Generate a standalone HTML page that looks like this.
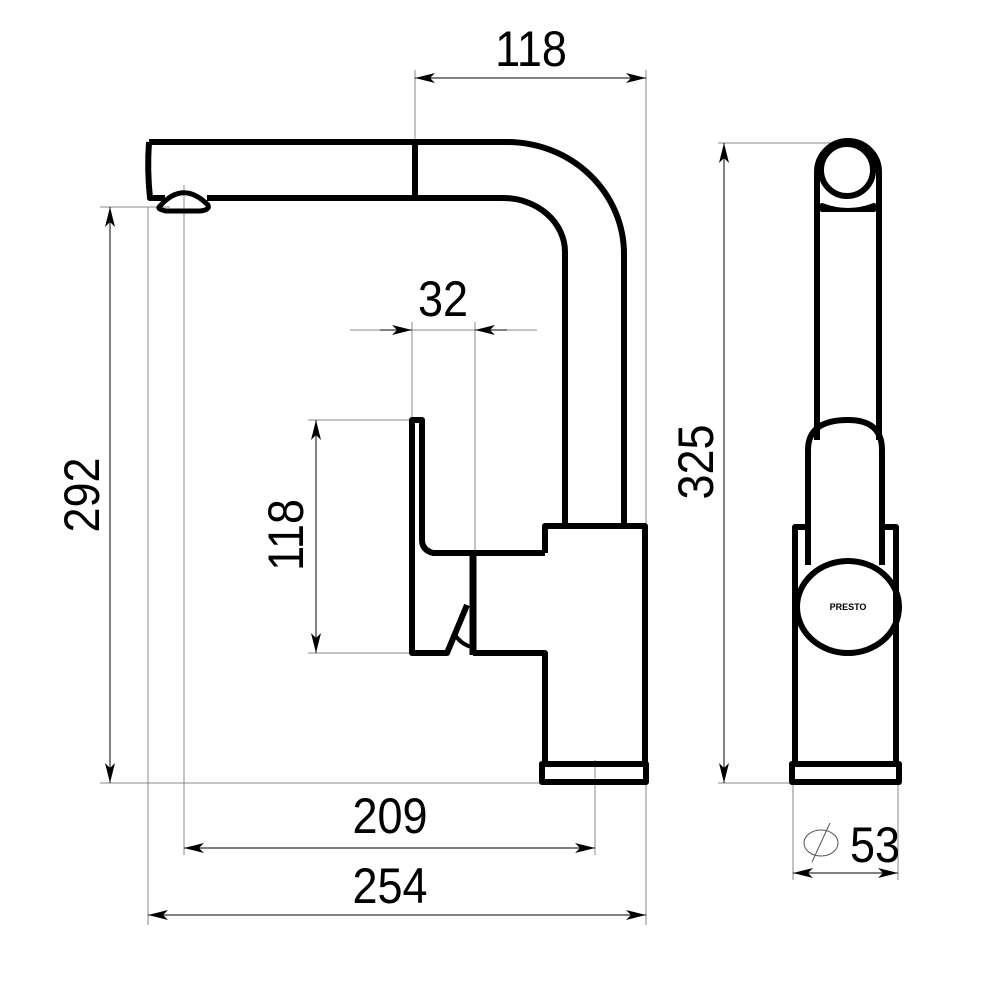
<!DOCTYPE html>
<html><head><meta charset="utf-8"><style>
html,body{margin:0;padding:0;background:#fff}
svg{display:block}
text{font-family:"Liberation Sans",sans-serif;font-size:50px;fill:#000}
</style></head><body>
<svg width="1000" height="1000" viewBox="0 0 1000 1000" xmlns="http://www.w3.org/2000/svg">
<defs>
<marker id="a" viewBox="0 0 20 10" refX="20" refY="5" markerWidth="20" markerHeight="10" markerUnits="userSpaceOnUse" orient="auto-start-reverse">
<path d="M0,0 L20,5 L0,10 L5,5 Z" fill="#000"/></marker>
</defs>
<g stroke="#888" stroke-width="1" fill="none">
<line x1="415" y1="70" x2="415" y2="142"/>
<line x1="646" y1="70" x2="646" y2="925"/>
<line x1="100" y1="207" x2="170" y2="207"/>
<line x1="100" y1="783" x2="545" y2="783"/>
<line x1="148" y1="207" x2="148" y2="925"/>
<line x1="184" y1="185" x2="184" y2="855"/>
<line x1="595" y1="760" x2="595" y2="855"/>
<line x1="412" y1="322" x2="412" y2="420"/>
<line x1="475" y1="322" x2="475" y2="553"/>
<line x1="308" y1="420" x2="412" y2="420"/>
<line x1="308" y1="653" x2="412" y2="653"/>
<line x1="718" y1="143" x2="848" y2="143"/>
<line x1="718" y1="783" x2="792" y2="783"/>
<line x1="793" y1="783" x2="793" y2="880"/>
<line x1="898" y1="783" x2="898" y2="880"/>
<line x1="350" y1="330" x2="537" y2="330"/>
</g>
<g stroke="#000" stroke-width="1" fill="none">
<line x1="415" y1="78" x2="646" y2="78" marker-start="url(#a)" marker-end="url(#a)"/>
<line x1="110" y1="207" x2="110" y2="783" marker-start="url(#a)" marker-end="url(#a)"/>
<line x1="184" y1="848" x2="595" y2="848" marker-start="url(#a)" marker-end="url(#a)"/>
<line x1="148" y1="915" x2="646" y2="915" marker-start="url(#a)" marker-end="url(#a)"/>
<line x1="316" y1="420" x2="316" y2="653" marker-start="url(#a)" marker-end="url(#a)"/>
<line x1="724" y1="143" x2="724" y2="783" marker-start="url(#a)" marker-end="url(#a)"/>
<line x1="793" y1="873" x2="898" y2="873" marker-start="url(#a)" marker-end="url(#a)"/>
<line x1="380" y1="330" x2="412" y2="330" marker-end="url(#a)"/>
<line x1="507" y1="330" x2="475" y2="330" marker-end="url(#a)"/>
<ellipse cx="821" cy="843" rx="17" ry="13" stroke="#555"/>
<line x1="812" y1="862" x2="830" y2="823" stroke="#555"/>
</g>
<g stroke="#000" stroke-width="6" fill="none" stroke-linejoin="round">
<path d="M149,142 L507,142 A117,112 0 0 1 624,254 L624,527"/>
<path d="M207,198 L503,198 A62,54 0 0 1 565,252 L565,527"/>
<path d="M149,142 Q147,170 150,198 L165,198"/>
<line x1="415" y1="142" x2="415" y2="198"/>
<path d="M160,206 Q183,180 208,205 Q210,210 200,211 L166,211 Q156,209 160,206 Z" stroke-width="5"/>
<path d="M545,553 L545,526 L645,526 L645,763"/>
<path d="M545,553 L433,553 Q422,550 422,540 L422,420 L412,420 L412,653 L447,653 L467,605"/>
<line x1="473" y1="553" x2="473" y2="655" stroke-width="7"/>
<path d="M473,653 L545,653 L545,763"/>
<path d="M455,635 Q462,645 472,647" stroke-width="4"/>
<rect x="542" y="764" width="104" height="18"/>
</g>
<g stroke="#000" stroke-width="6" fill="none" stroke-linejoin="round">
<path d="M817,440 L817,172 A31,31 0 0 1 879,172 L879,440"/>
<circle cx="847" cy="170" r="26"/>
<path d="M822,205 Q848,215 874,205 L874,210 L822,210 Z" stroke-width="4"/>
<path d="M808,565 L808,450 Q808,420 848,420 Q882,420 882,450 L882,565"/>
<ellipse cx="848" cy="607" rx="51" ry="46" fill="#fff"/>
<path d="M795,763 L795,527 L808,527 M882,527 L896,527 L896,763"/>
<rect x="792" y="764" width="107" height="18"/>
</g>
<text x="848" y="610" text-anchor="middle" style="font-size:9px;font-weight:bold">PRESTO</text>
<g>
<text transform="translate(531,66) scale(0.9,1)" text-anchor="middle">118</text>
<text transform="translate(443,316) scale(0.9,1)" text-anchor="middle">32</text>
<text transform="translate(390,833) scale(0.9,1)" text-anchor="middle">209</text>
<text transform="translate(390,903) scale(0.9,1)" text-anchor="middle">254</text>
<text transform="translate(875,862) scale(0.9,1)" text-anchor="middle">53</text>
<text transform="translate(99,495) rotate(-90) scale(0.9,1)" text-anchor="middle">292</text>
<text transform="translate(303,535) rotate(-90) scale(0.9,1)" text-anchor="middle">118</text>
<text transform="translate(713,462) rotate(-90) scale(0.9,1)" text-anchor="middle">325</text>
</g>
</svg>
</body></html>
